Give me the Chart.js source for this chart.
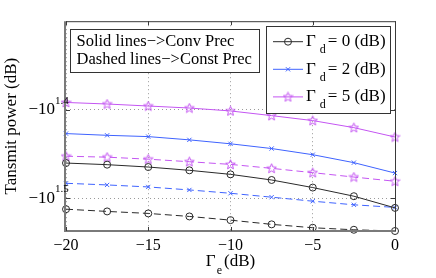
<!DOCTYPE html>
<html>
<head>
<meta charset="utf-8">
<script src="https://cdn.jsdelivr.net/npm/chart.js@4.4.1/dist/chart.umd.min.js"></script>
<style>
  html, body { margin: 0; padding: 0; background: #fff; }
</style>
</head>
<body>
<canvas id="chart" width="436" height="278"></canvas>
<script>
// x axis: Gamma_e (dB)
const gammaE = [-20, -17.5, -15, -12.5, -10, -7.5, -5, -2.5, 0];
const gammaD = [0, 2, 5];

// transmit power (dB), conventional precoding (solid lines)
const convD0 = [-28.86, -28.98, -29.16, -29.41, -29.72, -30.16, -30.76, -31.46, -32.43];
const convD2 = [-26.73, -26.85, -26.94, -27.17, -27.45, -27.79, -28.24, -28.83, -29.62];
const convD5 = [-24.65, -24.75, -24.88, -25.01, -25.20, -25.51, -25.84, -26.32, -26.97];
// transmit power (dB), constant precoding (dashed lines)
const constD0 = [-32.54, -32.73, -32.90, -33.16, -33.48, -33.85, -34.15, -34.33, -34.44];
const constD2 = [-30.42, -30.55, -30.71, -30.95, -31.22, -31.54, -31.87, -32.17, -32.39];
const constD5 = [-28.35, -28.42, -28.57, -28.76, -28.96, -29.26, -29.59, -29.93, -30.26];

const xTicks = [-20, -15, -10, -5, 0];
const yTickExp = [1.4, 1.5];          // labels -10^1.4, -10^1.5
const yTop = -Math.pow(10, 1.3);
const yBottom = -34.44;

const serif = '"Liberation Serif", "Times New Roman", serif';
const black = '#2a2a2a';
const blue = '#3f63ff';
const magenta = '#c455f2';

// MATLAB style pentagram marker
function makeStar(color) {
  const c = document.createElement('canvas');
  c.width = 11; c.height = 11;
  const g = c.getContext('2d');
  g.strokeStyle = color;
  g.lineWidth = 1;
  g.beginPath();
  for (let i = 0; i < 10; i++) {
    const r = i % 2 === 0 ? 5 : 2.2;
    const a = -Math.PI / 2 + i * Math.PI / 5;
    const px = 5.5 + r * Math.cos(a), py = 5.8 + r * Math.sin(a);
    if (i === 0) g.moveTo(px, py); else g.lineTo(px, py);
  }
  g.closePath();
  g.stroke();
  return c;
}
const starMark = makeStar(magenta);

function series(label, vals, color, style, dashed) {
  return {
    label: label,
    data: gammaE.map((g, i) => ({ x: g, y: -vals[i] })),
    borderColor: color,
    backgroundColor: 'rgba(0,0,0,0)',
    borderWidth: 1,
    borderDash: dashed ? [7, 4] : [],
    pointStyle: style,
    pointRadius: style === 'circle' ? 3.5 : 3,
    pointBorderColor: color,
    pointBorderWidth: 1,
    tension: 0,
    clip: 8
  };
}

const decoPlugin = {
  id: 'deco',
  afterDraw(chart) {
    const { ctx, chartArea: a, scales } = chart;
    const x = scales.x, y = scales.y;
    ctx.save();

    // axes box
    ctx.lineWidth = 1;
    ctx.strokeStyle = '#3a3a3a';
    ctx.beginPath();
    ctx.moveTo(a.left, a.top + 0.5); ctx.lineTo(a.right + 0.5, a.top + 0.5);
    ctx.lineTo(a.right + 0.5, a.bottom);
    ctx.stroke();
    ctx.strokeStyle = '#7a7a7a';
    ctx.lineWidth = 2;
    ctx.beginPath();
    ctx.moveTo(a.left - 1, a.top); ctx.lineTo(a.left - 1, a.bottom);
    ctx.lineTo(a.right + 1, a.bottom);
    ctx.stroke();

    // inward ticks
    ctx.lineWidth = 1;
    ctx.strokeStyle = '#3a3a3a';
    ctx.beginPath();
    x.ticks.forEach(t => {
      const px = Math.round(x.getPixelForValue(t.value)) + 0.5;
      ctx.moveTo(px, a.bottom); ctx.lineTo(px, a.bottom - 4);
      ctx.moveTo(px, a.top); ctx.lineTo(px, a.top + 4);
    });
    y.ticks.forEach(t => {
      const py = Math.round(y.getPixelForValue(t.value)) + 0.5;
      ctx.moveTo(a.left, py); ctx.lineTo(a.left + 4, py);
      ctx.moveTo(a.right, py); ctx.lineTo(a.right - 4, py);
    });
    ctx.stroke();

    // exponents of the y tick labels
    ctx.fillStyle = '#000';
    ctx.font = '11px ' + serif;
    ctx.textBaseline = 'alphabetic';
    ctx.textAlign = 'left';
    y.ticks.forEach(t => {
      const py = y.getPixelForValue(t.value);
      ctx.fillText(Math.log10(t.value).toFixed(1), a.left - 11, py - 6);
    });

    // x axis title: Gamma_e (dB)
    ctx.font = '17px ' + serif;
    const wG = ctx.measureText('\u0393').width;
    const wRest = ctx.measureText('(dB)').width;
    ctx.font = '12px ' + serif;
    const wE = ctx.measureText('e').width;
    let tx = (a.left + a.right) / 2 - (wG + wE + 3 + wRest) / 2;
    ctx.font = '17px ' + serif;
    ctx.fillText('\u0393', tx, 265.5);
    ctx.font = '12px ' + serif;
    ctx.fillText('e', tx + wG + 1, 273.5);
    ctx.font = '17px ' + serif;
    ctx.fillText('(dB)', tx + wG + wE + 3, 265.5);

    // note box
    ctx.fillStyle = '#fff';
    ctx.fillRect(70.5, 29.5, 189, 43);
    ctx.strokeStyle = '#333';
    ctx.strokeRect(70.5, 29.5, 189, 43);
    ctx.fillStyle = '#000';
    ctx.font = '16.5px ' + serif;
    ctx.fillText('Solid lines\u2212>Conv Prec', 76.5, 45.5);
    ctx.fillText('Dashed lines\u2212>Const Prec', 76.5, 63.5);

    // legend box (solid series)
    ctx.fillStyle = '#fff';
    ctx.fillRect(266.5, 26.5, 124, 87);
    ctx.strokeStyle = '#333';
    ctx.strokeRect(266.5, 26.5, 124, 87);
    const ds = chart.data.datasets;
    for (let i = 0; i < 3; i++) {
      const d = ds[i];
      const yb = 46 + i * 27.6;
      const ym = yb - 4.3;
      ctx.strokeStyle = d.borderColor;
      ctx.lineWidth = 1;
      ctx.setLineDash([]);
      ctx.beginPath();
      ctx.moveTo(273, ym); ctx.lineTo(303, ym);
      ctx.stroke();
      ctx.fillStyle = 'rgba(0,0,0,0)';
      Chart.helpers.drawPoint(ctx, {
        pointStyle: d.pointStyle, radius: d.pointRadius, rotation: 0, borderWidth: 1
      }, 288, ym);
      ctx.fillStyle = '#000';
      ctx.font = '17px ' + serif;
      ctx.fillText('\u0393', 306, yb);
      const gw = ctx.measureText('\u0393').width;
      ctx.font = '12px ' + serif;
      ctx.fillText('d', 306 + gw + 4, yb + 7);
      const dw = ctx.measureText('d').width;
      ctx.font = '17px ' + serif;
      ctx.fillText('= ' + gammaD[i] + ' (dB)', 306 + gw + dw + 6, yb);
    }
    ctx.restore();
  }
};

new Chart(document.getElementById('chart'), {
  type: 'line',
  data: {
    datasets: [
      series('\u0393d = 0 (dB)', convD0, black, 'circle', false),
      series('\u0393d = 2 (dB)', convD2, blue, 'crossRot', false),
      series('\u0393d = 5 (dB)', convD5, magenta, starMark, false),
      series('const 0', constD0, black, 'circle', true),
      series('const 2', constD2, blue, 'crossRot', true),
      series('const 5', constD5, magenta, starMark, true)
    ]
  },
  options: {
    responsive: false,
    animation: false,
    devicePixelRatio: 1,
    layout: { padding: { left: 0, top: 21, right: 41, bottom: 0 } },
    plugins: { legend: { display: false }, tooltip: { enabled: false } },
    scales: {
      x: {
        type: 'linear',
        min: -20,
        max: 0,
        afterBuildTicks: s => { s.ticks = xTicks.map(v => ({ value: v })); },
        afterFit: s => { s.height = 47; },
        grid: { color: '#9a9a9a', lineWidth: 1, drawTicks: false },
        border: { display: false, dash: [1, 3] },
        ticks: {
          color: '#000',
          padding: 5,
          maxRotation: 0,
          font: { family: serif, size: 16 },
          callback: v => (v < 0 ? '\u2212' + Math.abs(v) : '' + v)
        }
      },
      y: {
        type: 'logarithmic',
        reverse: true,
        min: -yTop,
        max: -yBottom,
        afterBuildTicks: s => { s.ticks = yTickExp.map(e => ({ value: Math.pow(10, e) })); },
        afterFit: s => { s.width = 66; },
        grid: { color: '#9a9a9a', lineWidth: 1, drawTicks: false },
        border: { display: false, dash: [1, 3] },
        title: {
          display: true,
          text: 'Tansmit power (dB)',
          color: '#000',
          font: { family: serif, size: 17 },
          padding: { top: 1, bottom: 0 }
        },
        ticks: {
          color: '#000',
          padding: 11,
          font: { family: serif, size: 17 },
          callback: () => '\u221210'
        }
      }
    }
  },
  plugins: [decoPlugin]
});
</script>
</body>
</html>
